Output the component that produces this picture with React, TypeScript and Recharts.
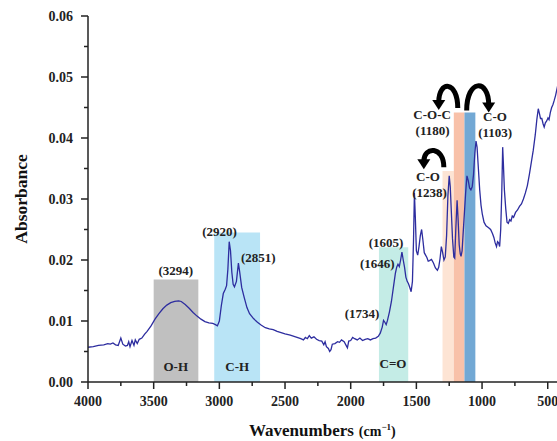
import React from 'react'
import { LineChart, Line, XAxis, YAxis, ReferenceArea, ReferenceDot } from 'recharts'

// FTIR spectrum, wavenumber (cm-1) vs absorbance
const wavenumbers = [
  4000, 3960, 3920, 3880, 3850, 3830, 3810, 3790, 3770, 3750, 3735, 3715, 3700, 3690, 3680, 3665, 3650, 3640,
  3625, 3610, 3590, 3570, 3550, 3520, 3490, 3460, 3430, 3400, 3370, 3340, 3310, 3290, 3260, 3230, 3200, 3170,
  3140, 3110, 3080, 3050, 3030, 3015, 3000, 2985, 2970, 2955, 2945, 2935, 2925, 2915, 2905, 2895, 2885, 2870,
  2855, 2845, 2830, 2810, 2790, 2770, 2740, 2710, 2680, 2650, 2620, 2590, 2560, 2530, 2500, 2460, 2420, 2380,
  2360, 2345, 2330, 2315, 2300, 2280, 2260, 2240, 2220, 2205, 2195, 2185, 2170, 2160, 2150, 2140, 2120, 2100,
  2085, 2070, 2050, 2035, 2025, 2015, 2000, 1985, 1970, 1950, 1930, 1910, 1890, 1870, 1850, 1830, 1810, 1790,
  1775, 1760, 1750, 1740, 1730, 1720, 1705, 1690, 1675, 1660, 1650, 1640, 1630, 1620, 1610, 1600, 1590, 1580,
  1570, 1560, 1550, 1540, 1530, 1522, 1515, 1508, 1500, 1490, 1480, 1470, 1460, 1450, 1440, 1430, 1420, 1410,
  1400, 1385, 1370, 1355, 1340, 1330, 1320, 1310, 1300, 1290, 1280, 1270, 1260, 1250, 1242, 1235, 1225, 1215,
  1208, 1200, 1190, 1182, 1174, 1166, 1160, 1152, 1145, 1135, 1125, 1115, 1105, 1095, 1085, 1075, 1065, 1055,
  1046, 1038, 1028, 1018, 1008, 998, 985, 970, 950, 935, 920, 910, 900, 890, 882, 874, 866, 858,
  850, 843, 838, 830, 820, 810, 800, 790, 780, 770, 760, 745, 730, 715, 700, 685, 670, 655,
  640, 625, 610, 595, 583, 572, 563, 555, 545, 535, 527, 518, 508, 498, 490, 480, 470, 460,
  450, 440, 425,
]

const absorbance = [
  0.0057, 0.0058, 0.006, 0.0061, 0.0063, 0.0062, 0.0064, 0.0061, 0.006, 0.0072, 0.0062, 0.0059, 0.006, 0.0066, 0.0058, 0.0068, 0.006, 0.0069,
  0.0063, 0.007, 0.0072, 0.0078, 0.0083, 0.0092, 0.0103, 0.0112, 0.012, 0.0126, 0.013, 0.0132, 0.0133, 0.0132, 0.0127, 0.0121, 0.0114, 0.0108,
  0.0103, 0.0099, 0.0097, 0.0096, 0.0094, 0.0092, 0.01, 0.0125, 0.0145, 0.0152, 0.0158, 0.0185, 0.023, 0.0215, 0.018, 0.016, 0.0156, 0.0165,
  0.0195, 0.018, 0.0155, 0.0138, 0.0122, 0.0112, 0.0104, 0.0098, 0.0093, 0.0089, 0.0087, 0.0086, 0.0083, 0.0081, 0.0079, 0.0077, 0.0074, 0.0071,
  0.0069, 0.0073, 0.0071, 0.0076, 0.0072, 0.0074, 0.007, 0.0068, 0.0067, 0.0061, 0.0066, 0.0058, 0.0055, 0.005, 0.0053, 0.0062, 0.0063, 0.0066,
  0.0065, 0.0069, 0.0066, 0.006, 0.0056, 0.0067, 0.0068, 0.0073, 0.0071, 0.0069, 0.0072, 0.0068, 0.007, 0.0071, 0.0069, 0.0071, 0.0072, 0.0075,
  0.008, 0.009, 0.0101, 0.0098, 0.0094, 0.0101, 0.0115, 0.0132, 0.0155, 0.0178, 0.0188, 0.0193, 0.0189, 0.02, 0.0213, 0.02, 0.0188, 0.0172,
  0.0165, 0.0161, 0.0155, 0.0148, 0.0165, 0.023, 0.031, 0.027, 0.0215, 0.0208, 0.0222, 0.024, 0.025, 0.0232, 0.0212, 0.0208, 0.0204, 0.0198,
  0.0199, 0.0201, 0.0195, 0.0187, 0.0183, 0.0188, 0.0202, 0.0222, 0.0212, 0.02, 0.0205, 0.024, 0.0305, 0.0338, 0.032, 0.0285, 0.0235, 0.0205,
  0.0203, 0.025, 0.0298, 0.0265, 0.0225, 0.021, 0.0206, 0.0215, 0.024, 0.0275, 0.031, 0.0338, 0.033, 0.0318, 0.0315, 0.032, 0.034, 0.0375,
  0.0395, 0.0385, 0.035, 0.0315, 0.029, 0.0275, 0.0262, 0.0256, 0.0253, 0.025, 0.0243, 0.0237, 0.0228, 0.0222, 0.023, 0.0228, 0.0222, 0.025,
  0.031, 0.0385, 0.036, 0.0315, 0.0285, 0.0262, 0.026, 0.0266, 0.0264, 0.0272, 0.027, 0.0278, 0.0282, 0.0288, 0.0292, 0.03, 0.031, 0.0322,
  0.034, 0.036, 0.038, 0.0405, 0.043, 0.0448, 0.044, 0.0432, 0.0432, 0.0423, 0.0418, 0.0425, 0.0428, 0.0433, 0.043, 0.0442, 0.045, 0.0455,
  0.0462, 0.047, 0.0485,
]

const xTicks = [4000, 3750, 3500, 3250, 3000, 2750, 2500, 2250, 2000, 1750, 1500, 1250, 1000, 750, 500]
const yTicks = [0, 0.005, 0.01, 0.015, 0.02, 0.025, 0.03, 0.035, 0.04, 0.045, 0.05, 0.055, 0.06]

// shaded assignment bands
const bandFrom = [3500, 3039, 1785, 1301, 1215, 1134]
const bandTo = [3160, 2690, 1562, 1215, 1134, 1051]
const bandTop = [0.0168, 0.0245, 0.0221, 0.0346, 0.0442, 0.0442]
const bandFill = ['#c0c0c0', '#b9e4f6', '#c4ece6', '#fde4d4', '#f8c1a9', '#72a8d4']

// text annotations anchored at (wavenumber, absorbance)
const noteText = ['(3294)', 'O-H', '(2920)', '(2851)', 'C-H', '(1734)', '(1646)', '(1605)', 'C=O',
  'C-O', '(1238)', 'C-O-C', '(1180)', 'C-O', '(1103)']
const noteX = [3332, 3332, 2998, 2703, 2864, 1913, 1797, 1731, 1678, 1412, 1400, 1380, 1377, 902, 900]
const noteY = [0.0183, 0.0025, 0.02475, 0.0204, 0.0025, 0.0112, 0.0194, 0.02285, 0.0031,
  0.0337, 0.0311, 0.0438, 0.0413, 0.0436, 0.0409]

// curved arrows: anchor at stem base, direction, width, height
const arrowX = [1291, 1185, 1117]
const arrowY = [0.0352, 0.0449, 0.0445]
const arrowDir = [-1, -1, 1]
const arrowW = [20, 19, 22]
const arrowH = [16, 21, 24]

const data = wavenumbers.map((w, i) => ({ w, a: absorbance[i] }))

const FONT = '"Liberation Serif", "Times New Roman", serif'

const YTick = (props: any) => {
  const { x, y, payload } = props
  const v = payload.value as number
  const major = Math.abs(v * 100 - Math.round(v * 100)) < 1e-6
  return (
    <g>
      <line x1={x} x2={x - (major ? 7 : 4)} y1={y} y2={y} stroke="#222" strokeWidth={1.5} />
      {major && (
        <text x={x - 15} y={y} dy="0.35em" textAnchor="end" fontFamily={FONT} fontWeight="bold" fontSize={14} fill="#222">
          {v.toFixed(2)}
        </text>
      )}
    </g>
  )
}

const XTick = (props: any) => {
  const { x, y, payload } = props
  const v = payload.value as number
  const major = v % 500 === 0
  return (
    <g>
      <line x1={x} x2={x} y1={y} y2={y + (major ? 7 : 4)} stroke="#222" strokeWidth={1.5} />
      {major && (
        <text x={x} y={y + 24} textAnchor="middle" fontFamily={FONT} fontWeight="bold" fontSize={14} fill="#222">
          {v}
        </text>
      )}
    </g>
  )
}

const XTitle = (props: any) => {
  const { viewBox } = props
  return (
    <text x={viewBox.x + 161} y={viewBox.y + 54} fontFamily={FONT} fontWeight="bold" fill="#111">
      <tspan fontSize={17}>Wavenumbers</tspan>
      <tspan fontSize={14} dx={5}>(cm</tspan>
      <tspan fontSize={9} dy={-6}>−1</tspan>
      <tspan fontSize={14} dy={6}>)</tspan>
    </text>
  )
}

const Arrow = ({ cx, cy, dir, w, h }: any) => {
  const ex = cx + dir * w
  return (
    <g>
      <path
        d={`M${cx},${cy} C${cx},${cy - h * 1.33} ${ex},${cy - h * 1.33} ${ex},${cy - 6}`}
        fill="none"
        stroke="#000"
        strokeWidth={5}
      />
      <polygon points={`${ex - 6.5},${cy - 8} ${ex + 6.5},${cy - 8} ${ex},${cy + 2}`} fill="#000" />
    </g>
  )
}

const App: React.FC = () => {
  return (
    <div style={{ position: 'absolute', left: 0, top: 0, width: 557, height: 441, overflow: 'hidden', background: '#fff' }}>
      <LineChart width={574} height={441} data={data} margin={{ top: 16, right: 0, bottom: 0, left: 0 }}>
        {bandFrom.map((x1, i) => (
          <ReferenceArea
            key={`band-${i}`}
            x1={x1}
            x2={bandTo[i]}
            y1={0}
            y2={bandTop[i]}
            fill={bandFill[i]}
            fillOpacity={1}
            stroke="none"
          />
        ))}
        <XAxis
          dataKey="w"
          type="number"
          domain={[300, 4000]}
          reversed
          allowDataOverflow
          ticks={xTicks}
          interval={0}
          tickSize={0}
          tickMargin={0}
          tickLine={false}
          tick={<XTick />}
          height={59}
          axisLine={{ stroke: '#222', strokeWidth: 1.5 }}
          label={<XTitle />}
        />
        <YAxis
          type="number"
          domain={[0, 0.06]}
          ticks={yTicks}
          interval={0}
          tickSize={0}
          tickMargin={0}
          tickLine={false}
          tick={<YTick />}
          width={88}
          axisLine={{ stroke: '#222', strokeWidth: 1.5 }}
          label={{
            value: 'Absorbance',
            angle: -90,
            position: 'insideLeft',
            offset: 21,
            style: { textAnchor: 'middle', fontFamily: FONT, fontWeight: 'bold', fontSize: 17.5, fill: '#111' },
          }}
        />
        <Line
          type="linear"
          dataKey="a"
          stroke="#2d2d9f"
          strokeWidth={1.3}
          dot={false}
          isAnimationActive={false}
        />
        {noteText.map((t, i) => (
          <ReferenceDot
            key={`note-${i}`}
            x={noteX[i]}
            y={noteY[i]}
            r={1}
            shape={(p: any) => (
              <text x={p.cx} y={p.cy} dy="0.35em" textAnchor="middle" fontFamily={FONT} fontWeight="bold" fontSize={13} fill="#222">
                {t}
              </text>
            )}
          />
        ))}
        {arrowX.map((x, i) => (
          <ReferenceDot
            key={`arrow-${i}`}
            x={x}
            y={arrowY[i]}
            r={1}
            shape={(p: any) => <Arrow cx={p.cx} cy={p.cy} dir={arrowDir[i]} w={arrowW[i]} h={arrowH[i]} />}
          />
        ))}
      </LineChart>
    </div>
  )
}

export default App
